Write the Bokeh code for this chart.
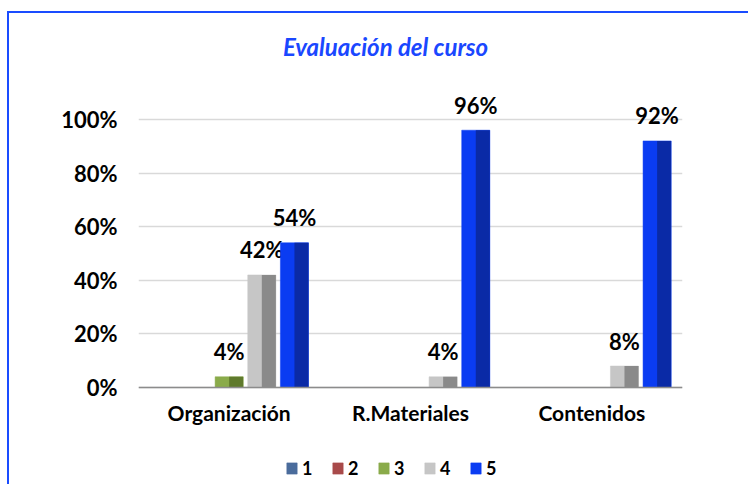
from bokeh.plotting import figure
from bokeh.models import (FactorRange, NumeralTickFormatter, FixedTicker, Legend,
                          LegendItem, ColumnDataSource, Range1d, Span, Label)
from bokeh.transform import dodge
from bokeh.core.properties import value
from bokeh.embed import file_html
from bokeh.resources import INLINE

categories = ["Organización", "R.Materiales", "Contenidos"]
series_names = ["1", "2", "3", "4", "5"]
s1 = [0.0, 0.0, 0.0]
s2 = [0.0, 0.0, 0.0]
s3 = [0.04, 0.0, 0.0]
s4 = [0.42, 0.04, 0.08]
s5 = [0.54, 0.96, 0.92]
y_ticks = [0.0, 0.2, 0.4, 0.6, 0.8, 1.0]
series_values = [s1, s2, s3, s4, s5]
title_text = "Evaluación del curso"

face_colors = ["#4a6c9c", "#a84a4a", "#8aab4a", "#c6c6c6", "#0a3cf2"]
dark_colors = ["#2d4a75", "#7a2e2e", "#5f7a2c", "#8a8a8a", "#0a2aa6"]

FONT = "Lato"

# the frame fills the whole height, so the title, the category labels and the
# legend can all be placed inside it
p = figure(x_range=FactorRange(*categories), y_range=Range1d(-0.3694, 1.3955),
           width=741, height=473, output_backend="svg", toolbar_location=None,
           x_axis_location=None,
           min_border_left=129, min_border_right=68, min_border_top=0,
           min_border_bottom=0)
p.x_range.range_padding = 0
p.styles = {"border-top": "2px solid #1a4cff", "border-left": "2px solid #1a4cff",
            "margin-left": "7px", "margin-top": "11px"}

p.add_layout(Label(x=247, y=440, x_units="screen", y_units="screen", text=title_text,
                   text_align="center", text_baseline="middle", text_font=FONT,
                   text_font_style="bold italic", text_font_size="24px",
                   text_color="#1a47ff"))

p.outline_line_color = None
p.background_fill_color = "white"
p.border_fill_color = "white"

p.xgrid.grid_line_color = None
p.ygrid.ticker = FixedTicker(ticks=y_ticks)
p.ygrid.grid_line_color = "#d9d9d9"
p.ygrid.grid_line_width = 1.5

p.yaxis.ticker = FixedTicker(ticks=y_ticks)
p.yaxis.formatter = NumeralTickFormatter(format="0%")
p.yaxis.axis_line_color = None
p.yaxis.major_tick_line_color = None
p.yaxis.minor_tick_line_color = None
p.yaxis.major_tick_out = 0
p.yaxis.major_tick_in = 0
p.yaxis.major_label_text_font = FONT
p.yaxis.major_label_text_font_style = "bold"
p.yaxis.major_label_text_font_size = "22px"
p.yaxis.major_label_text_color = "black"
p.yaxis.major_label_standoff = 21

# category axis: base line at 0 plus the category names below it
p.add_layout(Span(location=0, dimension="width", line_color="#8c8c8c", line_width=1.5))
csrc = ColumnDataSource(dict(cats=categories, y=[0.0] * len(categories), t=categories))
p.text(x="cats", y="y", text="t", source=csrc, text_align="center",
       text_baseline="top", y_offset=13, text_font=value(FONT),
       text_font_style="bold", text_font_size="21px", text_color="black")

step = 0.18
bw = 0.155
items = []
for i, (name, vals) in enumerate(zip(series_names, series_values)):
    off = (i - 2) * step
    src = ColumnDataSource(dict(cats=categories, v=vals))
    r = p.vbar(x=dodge("cats", off, range=p.x_range), top="v", width=bw, source=src,
               fill_color=face_colors[i], line_color=face_colors[i], line_width=0.5)
    p.vbar(x=dodge("cats", off + bw * 0.25, range=p.x_range), top="v", width=bw * 0.5,
           source=src, fill_color=dark_colors[i], line_color=None)
    items.append(LegendItem(label=name, renderers=[r]))
    lx = [c for c, v in zip(categories, vals) if v > 0]
    ly = [v for v in vals if v > 0]
    lt = ["%d%%" % round(v * 100) for v in vals if v > 0]
    if lx:
        lsrc = ColumnDataSource(dict(cats=lx, v=ly, t=lt))
        p.text(x=dodge("cats", off, range=p.x_range), y="v", text="t", source=lsrc,
               text_align="center", text_baseline="alphabetic", y_offset=-25,
               text_font=value(FONT), text_font_style="bold", text_font_size="22px",
               text_color="black")

legend = Legend(items=items, orientation="horizontal", location=(147, 7),
                glyph_width=13, glyph_height=14, label_standoff=4, spacing=9,
                label_text_font=FONT, label_text_font_style="bold",
                label_text_font_size="18px", label_text_color="black",
                border_line_color=None, background_fill_alpha=0,
                margin=0, padding=0)
p.add_layout(legend, "center")

open("out.html", "w").write(file_html(p, INLINE))
